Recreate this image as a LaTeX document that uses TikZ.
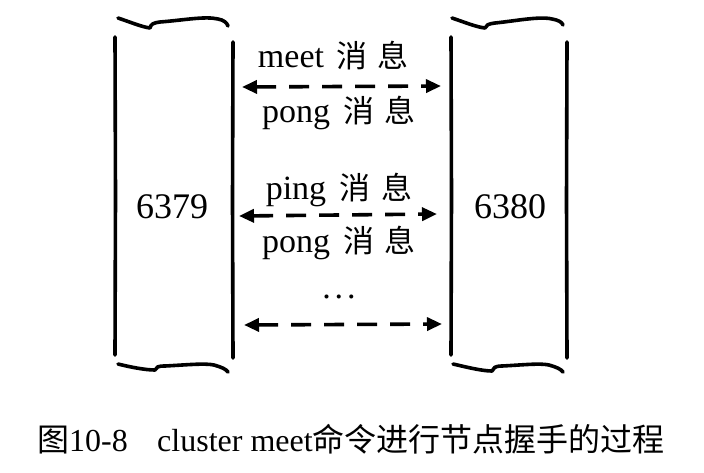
\documentclass[tikz,border=0pt]{standalone}
\usepackage{fontspec}
\setmainfont{Liberation Serif}
\newfontfamily\cjk{Noto Sans CJK SC}
\usetikzlibrary{arrows.meta}
\tikzset{
  wall/.style={line width=3.6pt, line cap=round},
  lid/.style={line width=3.6pt, line cap=round, line join=round},
  darrow/.style={line width=3.6pt, dash pattern=on 20pt off 13pt,
     {Triangle[length=15pt,width=13pt]}-{Triangle[length=15pt,width=13pt]}},
  num/.style={font=\fontsize{36}{40}\selectfont, inner sep=0pt},
  msg/.style={font=\fontsize{34}{38}\selectfont, inner sep=0pt, anchor=base},
  capt/.style={font=\fontsize{32}{36}\selectfont, inner sep=0pt, anchor=base west}
}
\newcommand{\zhch}[1]{{\cjk\fontsize{31}{34}\selectfont #1}}
\begin{document}
\begin{tikzpicture}[x=1pt,y=-1pt]
\useasboundingbox[fill=white] (0,0) rectangle (704,472);
% left server
\draw[wall] (115,37) -- (115.5,196) -- (115,355);
\draw[wall] (233,42) -- (232.5,200) -- (233,358);
\draw[lid] (118,18) .. controls (130,22) and (142,27) .. (150,28)
  .. controls (151,24) and (153,23) .. (160,22)
  .. controls (185,20) and (205,16) .. (218,19) .. controls (224,20) and (227,23) .. (228,26);
\draw[lid] (118,364) .. controls (130,367) and (145,370) .. (155,370)
  .. controls (156,367) and (158,366) .. (165,366)
  .. controls (185,365) and (205,363) .. (214,365) .. controls (221,367) and (226,369) .. (228,372);
\node[num] (n6379) at (172,207) {6379};
% right server
\draw[wall] (451,37) -- (451.5,196) -- (451,355);
\draw[wall] (567,42) -- (566.5,200) -- (567,358);
\draw[lid] (452,18) .. controls (464,22) and (476,27) .. (485,28)
  .. controls (486,25) and (488,24) .. (495,23)
  .. controls (515,21) and (540,16) .. (552,19) .. controls (558,20) and (562,22) .. (563,25);
\draw[lid] (453,364) .. controls (466,367) and (482,371) .. (492,371)
  .. controls (493,368) and (495,366) .. (502,366)
  .. controls (522,365) and (540,363) .. (549,365) .. controls (556,367) and (561,369) .. (563,372);
\node[num] (n6380) at (510,207) {6380};
% messages
\node[msg] (m1) at (333,67) {meet\hspace{12pt}\zhch{消}\hspace{10pt}\zhch{息}};
\node[msg] (m2) at (339,122) {pong\hspace{13pt}\zhch{消}\hspace{11pt}\zhch{息}};
\node[msg] (m3) at (339,199) {ping\hspace{13pt}\zhch{消}\hspace{11pt}\zhch{息}};
\node[msg] (m4) at (339,252) {pong\hspace{13pt}\zhch{消}\hspace{11pt}\zhch{息}};
\node[msg] (m5) at (339,298) {.\hspace{4pt}.\hspace{4pt}.};
% arrows
\coordinate (a1l) at (242,87);  \coordinate (a1r) at (441,86);
\coordinate (a2l) at (239,216); \coordinate (a2r) at (437,214);
\coordinate (a3l) at (244,325); \coordinate (a3r) at (442,324);
\draw[darrow] (a1l) -- (a1r);
\draw[darrow] (a2l) -- (a2r);
\draw[darrow] (a3l) -- (a3r);
% caption
\node[capt] (c1) at (37,451) {{\cjk 图}10-8};
\node[capt] (c2) at (157,451) {cluster meet{\cjk 命令进行节点握手的过程}};
\end{tikzpicture}
\end{document}
